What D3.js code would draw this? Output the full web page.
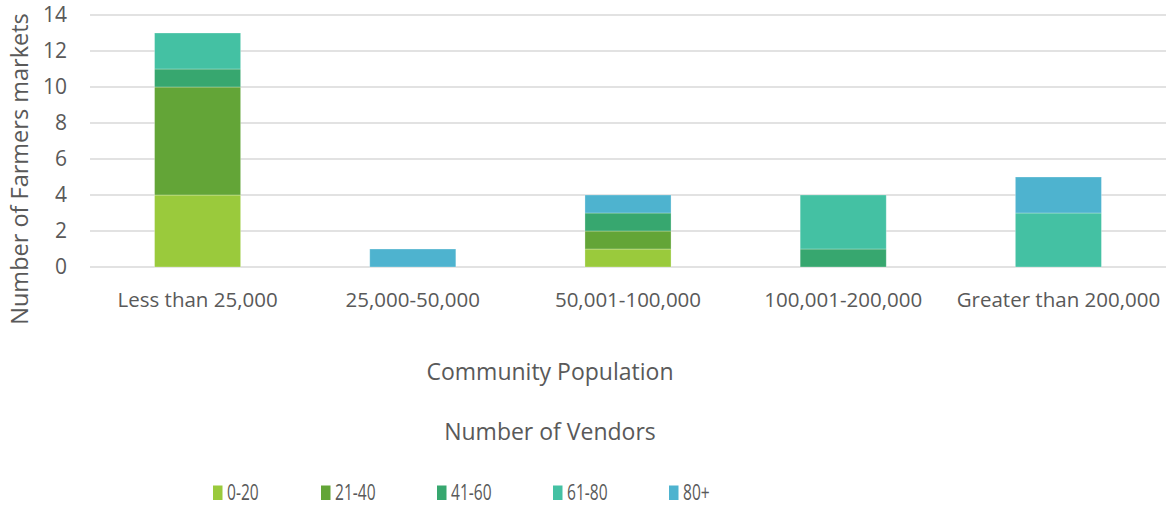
<!DOCTYPE html>
<html>
<head>
<meta charset="utf-8">
<script src="https://cdn.jsdelivr.net/npm/d3@7"></script>
<style>
  html, body { margin: 0; padding: 0; background: #fff; }
  svg { display: block; font-family: "Open Sans", "Noto Sans", sans-serif; }
</style>
</head>
<body>
<svg id="chart" width="1173" height="508"></svg>
<script>
// Community population groups along the x axis
const categories = ["Less than 25,000", "25,000-50,000", "50,001-100,000", "100,001-200,000", "Greater than 200,000"];

// Vendor-count groups (stack order, bottom to top)
const vendorGroups = ["0-20", "21-40", "41-60", "61-80", "80+"];

// Number of farmers markets per vendor group, one value per population group
const vendors0to20   = [4, 0, 1, 0, 0];
const vendors21to40  = [6, 0, 1, 0, 0];
const vendors41to60  = [1, 0, 1, 1, 0];
const vendors61to80  = [2, 0, 0, 3, 3];
const vendors80plus  = [0, 1, 1, 0, 2];

const yTicks = [0, 2, 4, 6, 8, 10, 12, 14];

const seriesValues = [vendors0to20, vendors21to40, vendors41to60, vendors61to80, vendors80plus];
const colors = ["#9ACA3C", "#63A537", "#37A76F", "#44C1A3", "#4EB3CF"];
const legendX = [213, 321, 437, 553, 669];
const textColor = "#595959";

// Build rows for d3.stack
const rows = categories.map((c, i) => {
  const r = { category: c };
  vendorGroups.forEach((g, k) => { r[g] = seriesValues[k][i]; });
  return r;
});

const svg = d3.select("#chart");
const plot = { left: 90, right: 1166, top: 15, bottom: 267 };

const x = d3.scaleBand()
  .domain(categories)
  .range([plot.left, plot.right])
  .paddingInner(0.6)
  .paddingOuter(0.3);

const y = d3.scaleLinear()
  .domain([0, 14])
  .range([plot.bottom, plot.top]);

// Horizontal gridlines
svg.append("g")
  .selectAll("line")
  .data(yTicks)
  .join("line")
  .attr("x1", plot.left)
  .attr("x2", plot.right)
  .attr("y1", d => y(d))
  .attr("y2", d => y(d))
  .attr("stroke", "#d9d9d9")
  .attr("stroke-width", 1.3);

// Y axis tick labels
const yAxis = d3.axisLeft(y).tickValues(yTicks).tickSize(0).tickPadding(23);
const gy = svg.append("g")
  .attr("transform", `translate(${plot.left},0)`)
  .call(yAxis);
gy.select(".domain").remove();
gy.selectAll("text")
  .attr("fill", textColor)
  .style("font-size", "21px")
  .style("font-family", "'Open Sans', sans-serif");

// Stacked bars
const stacked = d3.stack().keys(vendorGroups)(rows);
svg.append("g")
  .selectAll("g")
  .data(stacked)
  .join("g")
  .attr("fill", (d, i) => colors[i])
  .selectAll("rect")
  .data(d => d)
  .join("rect")
  .attr("x", d => x(d.data.category))
  .attr("width", x.bandwidth())
  .attr("y", d => y(d[1]))
  .attr("height", d => y(d[0]) - y(d[1]))
  .attr("stroke", "rgba(255,255,255,0.35)")
  .attr("stroke-width", 0.8);

// X axis category labels
const xAxis = d3.axisBottom(x).tickSize(0).tickPadding(25);
const gx = svg.append("g")
  .attr("transform", `translate(0,${plot.bottom})`)
  .call(xAxis);
gx.select(".domain").remove();
gx.selectAll("text")
  .attr("fill", textColor)
  .style("font-size", "20.5px")
  .style("font-family", "'Open Sans', sans-serif");

// Axis titles
svg.append("text")
  .attr("x", 550)
  .attr("y", 380)
  .attr("text-anchor", "middle")
  .attr("fill", textColor)
  .style("font-size", "23px")
  .text("Community Population");

svg.append("text")
  .attr("transform", `translate(28,169) rotate(-90)`)
  .attr("text-anchor", "middle")
  .attr("fill", textColor)
  .style("font-size", "23.5px")
  .text("Number of Farmers markets");

// Legend
svg.append("text")
  .attr("x", 550)
  .attr("y", 440)
  .attr("text-anchor", "middle")
  .attr("fill", textColor)
  .style("font-size", "23px")
  .text("Number of Vendors");

const legend = svg.append("g")
  .selectAll("g")
  .data(vendorGroups)
  .join("g")
  .attr("transform", (d, i) => `translate(${legendX[i]},485.5)`);
legend.append("rect")
  .attr("width", 9.5)
  .attr("height", 14.5)
  .attr("fill", (d, i) => colors[i]);
legend.append("text")
  .attr("transform", "translate(14,14.5) scale(0.74,1)")
  .attr("fill", textColor)
  .style("font-size", "21px")
  .text(d => d);
</script>
</body>
</html>
